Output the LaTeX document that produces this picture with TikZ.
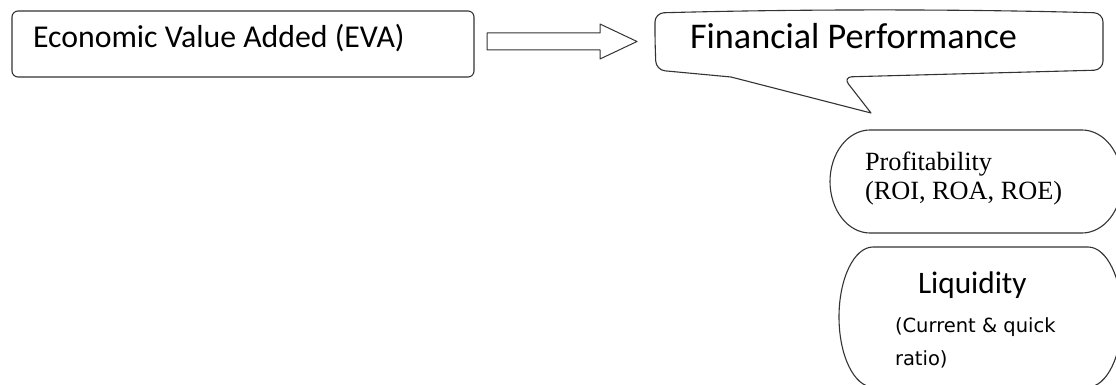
\documentclass[tikz,border=0pt]{standalone}
\usepackage{fontspec}
\newfontfamily\calfont{Carlito}
\newfontfamily\tnrfont{Liberation Serif}
\newfontfamily\dvsfont{DejaVu Sans}
\begin{document}
\begin{tikzpicture}[x=1pt,y=-1pt,line join=round]
\tikzset{
  frame/.style={draw=black!80,line width=1.1pt},
  lbl/.style={anchor=base west,inner sep=0pt,outer sep=0pt,text=black}
}
\useasboundingbox (0,0) rectangle (1116,385);
\clip (0,0) rectangle (1116,385);
% EVA box
\draw[frame,rounded corners=6] (12,11) rectangle (474,77);
\node[lbl] (evat) at (33,48) {\calfont\fontsize{31.8}{37}\selectfont Economic Value Added (EVA)};
% block arrow
\coordinate (as) at (487,41.5);
\coordinate (at) at (637,41.5);
\draw[frame,line width=1pt] (as) ++(0,-8.5) -- (600,33) -- (600,24) -- (at) -- (600,59) -- (600,50) -- (487,50) -- cycle;
% callout
\draw[frame] (655,40) [rounded corners=9] -- (655,13) .. controls (800,9) and (960,9) .. (1103,13) -- (1103,70) -- (843,77) [sharp corners] -- (871,113) -- (731,77) [rounded corners=9] -- (656,70) -- cycle;
\node[lbl] (fpt) at (690,49) {\calfont\fontsize{36.2}{42}\selectfont Financial Performance};
% profitability
\draw[frame] (1082,130) -- (870,130) arc[start angle=270,end angle=90,x radius=40,y radius=51.5]
  -- (1082,233) arc[start angle=90,end angle=-90,x radius=40,y radius=51.5] -- cycle;
\node[lbl] (pt1) at (865,170) {\tnrfont\fontsize{26.3}{30}\selectfont Profitability};
\node[lbl] (pt2) at (865,199) {\tnrfont\fontsize{26.3}{30}\selectfont (ROI, ROA, ROE)};
% liquidity
\draw[frame] (1088,247) -- (873,247) arc[start angle=270,end angle=90,x radius=34,y radius=70]
  -- (1088,387) arc[start angle=90,end angle=-90,x radius=34,y radius=70] -- cycle;
\node[lbl] (lt1) at (918,293) {\calfont\fontsize{31.3}{37}\selectfont Liquidity};
\node[lbl] (lt2) at (895,332) {\dvsfont\fontsize{19.5}{24}\selectfont (Current \& quick};
\node[lbl] (lt3) at (895,365) {\dvsfont\fontsize{19.5}{24}\selectfont ratio)};
\end{tikzpicture}
\end{document}
